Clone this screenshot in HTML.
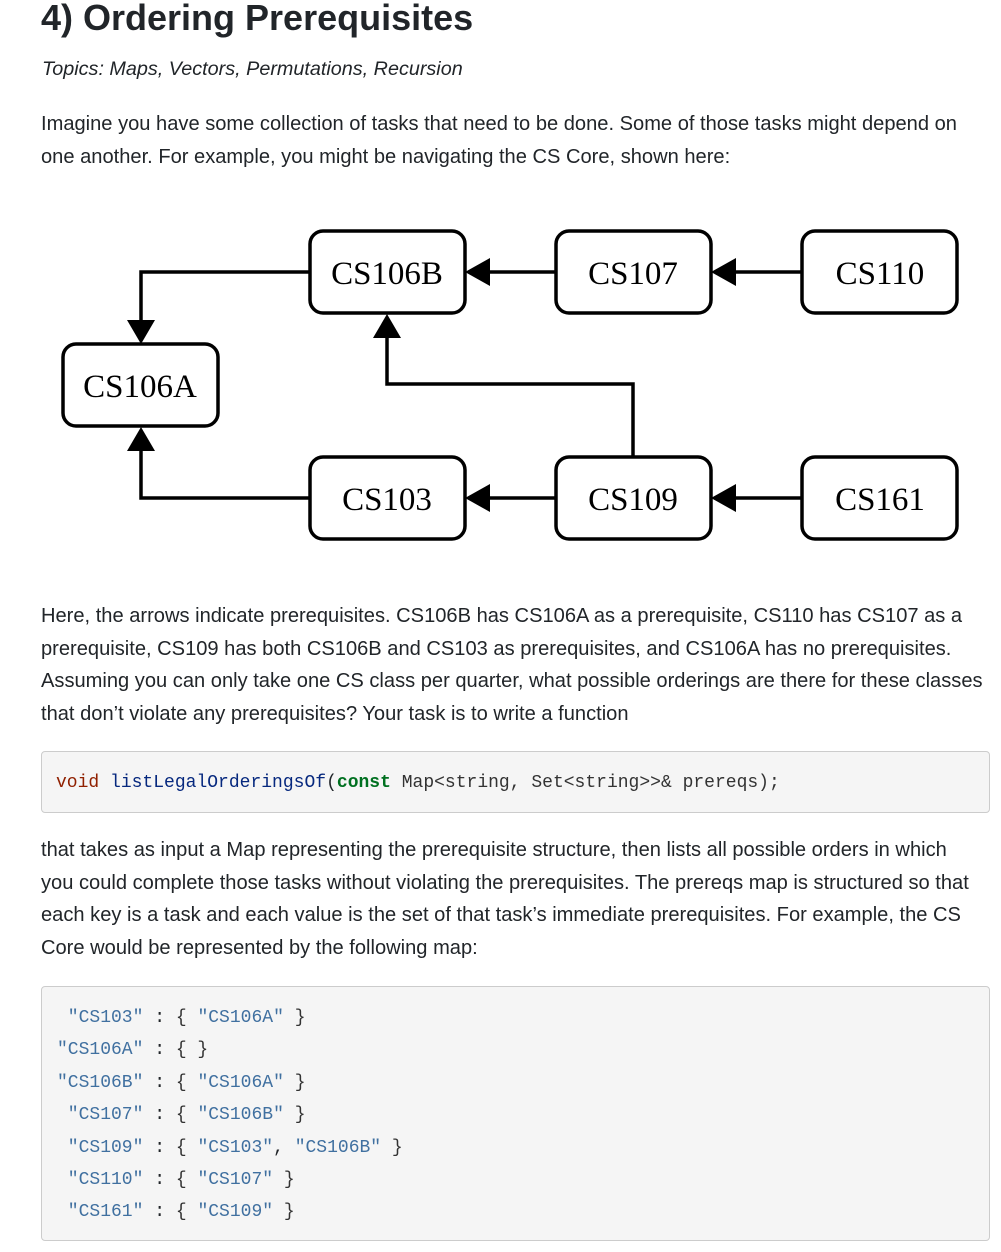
<!DOCTYPE html>
<html><head><meta charset="utf-8"><style>
body{margin:0;background:#fff;width:1001px;height:1252px;overflow:hidden;position:relative;font-family:"Liberation Sans",sans-serif;color:#212529}
.a{position:absolute;white-space:nowrap}
h1{position:absolute;left:41px;top:-3px;margin:0;font-size:36px;font-weight:bold;color:#212529}
.p{font-size:20.1px;line-height:32.5px}
.code{position:absolute;left:41px;width:949px;background:#f5f5f5;border:1px solid #ccc;border-radius:4px;font-family:"Liberation Mono",monospace;font-size:18px;box-sizing:border-box}
.s{color:#4070a0}.b{color:#333}.k{color:#902000}.f{color:#06287e}.c{color:#007020;font-weight:bold}
</style></head><body>
<h1>4) Ordering Prerequisites</h1>
<div class="a" style="left:42px;top:58px;font-size:19.8px;font-style:italic">Topics: Maps, Vectors, Permutations, Recursion</div>
<div class="a p" style="left:41px;top:108px">Imagine you have some collection of tasks that need to be done. Some of those tasks might depend on<br>one another. For example, you might be navigating the CS Core, shown here:</div>
<svg class="a" style="left:0;top:0" width="1001" height="560">
<g fill="none" stroke="#000" stroke-width="3.5">
<rect x="310" y="231" width="155" height="82" rx="13"/>
<rect x="556" y="231" width="155" height="82" rx="13"/>
<rect x="802" y="231" width="155" height="82" rx="13"/>
<rect x="63" y="344" width="155" height="82" rx="13"/>
<rect x="310" y="457" width="155" height="82" rx="13"/>
<rect x="556" y="457" width="155" height="82" rx="13"/>
<rect x="802" y="457" width="155" height="82" rx="13"/>
<polyline points="556,272 488,272"/>
<polyline points="802,272 734,272"/>
<polyline points="556,498 488,498"/>
<polyline points="802,498 734,498"/>
<polyline points="310,272 141,272 141,322"/>
<polyline points="310,498 141,498 141,450"/>
<polyline points="633,457 633,384 387,384 387,337"/>
</g>
<g fill="#000">
<polygon points="465,272 490,258 490,286"/>
<polygon points="711,272 736,258 736,286"/>
<polygon points="465,498 490,484 490,512"/>
<polygon points="711,498 736,484 736,512"/>
<polygon points="141,344 127,320 155,320"/>
<polygon points="141,427 127,451 155,451"/>
<polygon points="387,314 373,338 401,338"/>
</g>
<g font-family="'Liberation Serif',serif" font-size="33" text-anchor="middle">
<text x="387" y="284">CS106B</text>
<text x="633" y="284">CS107</text>
<text x="880" y="284">CS110</text>
<text x="140" y="397">CS106A</text>
<text x="387" y="510">CS103</text>
<text x="633" y="510">CS109</text>
<text x="880" y="510">CS161</text>
</g>
</svg>
<div class="a p" style="left:41px;top:600px">Here, the arrows indicate prerequisites. CS106B has CS106A as a prerequisite, CS110 has CS107 as a<br>prerequisite, CS109 has both CS106B and CS103 as prerequisites, and CS106A has no prerequisites.<br>Assuming you can only take one CS class per quarter, what possible orderings are there for these classes<br>that don’t violate any prerequisites? Your task is to write a function</div>
<div class="code" style="top:751px;height:62px;padding:21px 0 0 14px;white-space:pre"><span class="k">void</span> <span class="f">listLegalOrderingsOf</span>(<span class="c">const</span> <span class="b">Map&lt;string, Set&lt;string&gt;&gt;&amp; prereqs);</span></div>
<div class="a p" style="left:41px;top:834px">that takes as input a Map representing the prerequisite structure, then lists all possible orders in which<br>you could complete those tasks without violating the prerequisites. The prereqs map is structured so that<br>each key is a task and each value is the set of that task’s immediate prerequisites. For example, the CS<br>Core would be represented by the following map:</div>
<div class="code" style="top:986px;height:255px;padding:15px 0 0 15px;line-height:32.4px;white-space:pre"><span class="s"> "CS103"</span> : <span class="b">{</span> <span class="s">"CS106A"</span> <span class="b">}</span>
<span class="s">"CS106A"</span> : <span class="b">{ }</span>
<span class="s">"CS106B"</span> : <span class="b">{</span> <span class="s">"CS106A"</span> <span class="b">}</span>
<span class="s"> "CS107"</span> : <span class="b">{</span> <span class="s">"CS106B"</span> <span class="b">}</span>
<span class="s"> "CS109"</span> : <span class="b">{</span> <span class="s">"CS103"</span>, <span class="s">"CS106B"</span> <span class="b">}</span>
<span class="s"> "CS110"</span> : <span class="b">{</span> <span class="s">"CS107"</span> <span class="b">}</span>
<span class="s"> "CS161"</span> : <span class="b">{</span> <span class="s">"CS109"</span> <span class="b">}</span></div>
</body></html>
